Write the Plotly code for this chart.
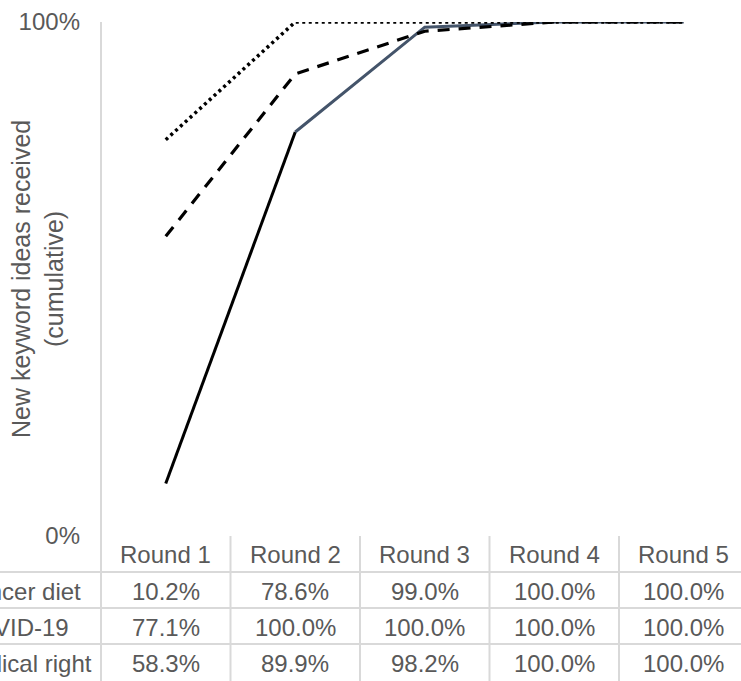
import plotly.graph_objects as go

rounds = ["Round 1", "Round 2", "Round 3", "Round 4", "Round 5"]
series_names = ["Cancer diet", "COVID-19", "Radical right"]
cancer_diet = [0.102, 0.786, 0.990, 1.000, 1.000]
covid_19 = [0.771, 1.000, 1.000, 1.000, 1.000]
radical_right = [0.583, 0.899, 0.982, 1.000, 1.000]
y_title = "New keyword ideas received<br>(cumulative)"

FONT = "Liberation Sans, Arial, sans-serif"
TXT = "#595959"
GRID = "#d9d9d9"
SLATE = "#44546A"
FS = 24

xs = list(range(len(rounds)))
fig = go.Figure()

# Cancer diet: first segment black, rest slate
fig.add_trace(go.Scatter(x=xs[:2], y=cancer_diet[:2], mode="lines",
                         line=dict(color="black", width=3), cliponaxis=False,
                         showlegend=False))
fig.add_trace(go.Scatter(x=xs[1:], y=cancer_diet[1:], mode="lines",
                         line=dict(color=SLATE, width=3), cliponaxis=False,
                         showlegend=False))
fig.add_trace(go.Scatter(x=xs, y=radical_right, mode="lines",
                         line=dict(color="black", width=3.2, dash="12px,9px"),
                         cliponaxis=False, showlegend=False))
fig.add_trace(go.Scatter(x=xs, y=covid_19, mode="lines",
                         line=dict(color="black", width=3.5, dash="3px,3.5px"),
                         cliponaxis=False, showlegend=False))

PH = 514.0
PW = 640.0
def py(px_below):
    return -px_below / PH

row_lines = [36, 72, 108]
header_c = 18
row_cs = [55, 91, 127]
left_edge = -101 / PW

shapes = []
shapes.append(dict(type="line", xref="paper", yref="paper", x0=0, x1=0,
                   y0=1, y1=py(150), line=dict(color=GRID, width=2)))
for r in row_lines:
    shapes.append(dict(type="line", xref="paper", yref="paper", x0=left_edge,
                       x1=1.05, y0=py(r), y1=py(r), line=dict(color=GRID, width=2)))
for i in range(len(rounds) - 1):
    shapes.append(dict(type="line", xref="x", yref="paper", x0=i + 0.5, x1=i + 0.5,
                       y0=0, y1=py(150), line=dict(color=GRID, width=2)))

annotations = []
for i, r in enumerate(rounds):
    annotations.append(dict(x=i, y=py(header_c), xref="x", yref="paper", text=r,
                            showarrow=False, font=dict(size=FS, color=TXT, family=FONT),
                            xanchor="center", yanchor="middle"))
for vals, name, yc in zip([cancer_diet, covid_19, radical_right], series_names, row_cs):
    annotations.append(dict(x=(-44 - 101) / PW, y=py(yc), xref="paper", yref="paper",
                            text=name, showarrow=False,
                            font=dict(size=FS, color=TXT, family=FONT),
                            xanchor="left", yanchor="middle"))
    for i, v in enumerate(vals):
        annotations.append(dict(x=i, y=py(yc), xref="x", yref="paper",
                                text=f"{v*100:.1f}%", showarrow=False,
                                font=dict(size=FS, color=TXT, family=FONT),
                                xanchor="center", yanchor="middle"))
annotations.append(dict(x=(37 - 101) / PW, y=0.5, xref="paper", yref="paper",
                        text=y_title, showarrow=False, textangle=-90,
                        font=dict(size=25, color=TXT, family=FONT),
                        xanchor="center", yanchor="middle"))

fig.update_layout(
    width=741, height=681,
    margin=dict(l=101, r=0, t=22, b=145, autoexpand=False),
    paper_bgcolor="white", plot_bgcolor="white",
    font=dict(family=FONT, color=TXT, size=FS),
    shapes=shapes, annotations=annotations,
    xaxis=dict(range=[-0.5, -0.5 + PW / 129.5], showticklabels=False,
               showgrid=False, zeroline=False, showline=False, fixedrange=True),
    yaxis=dict(range=[0, 1], tickvals=[0, 1], tickformat=".0%",
               showgrid=True, gridcolor=GRID, gridwidth=2, zeroline=False,
               showline=False, ticklabelstandoff=20,
               tickfont=dict(size=FS, color=TXT, family=FONT), fixedrange=True),
)

fig.write_html("out.html", config={"displayModeBar": False},
               post_script="document.body.style.margin='0';document.body.style.overflow='hidden';")
